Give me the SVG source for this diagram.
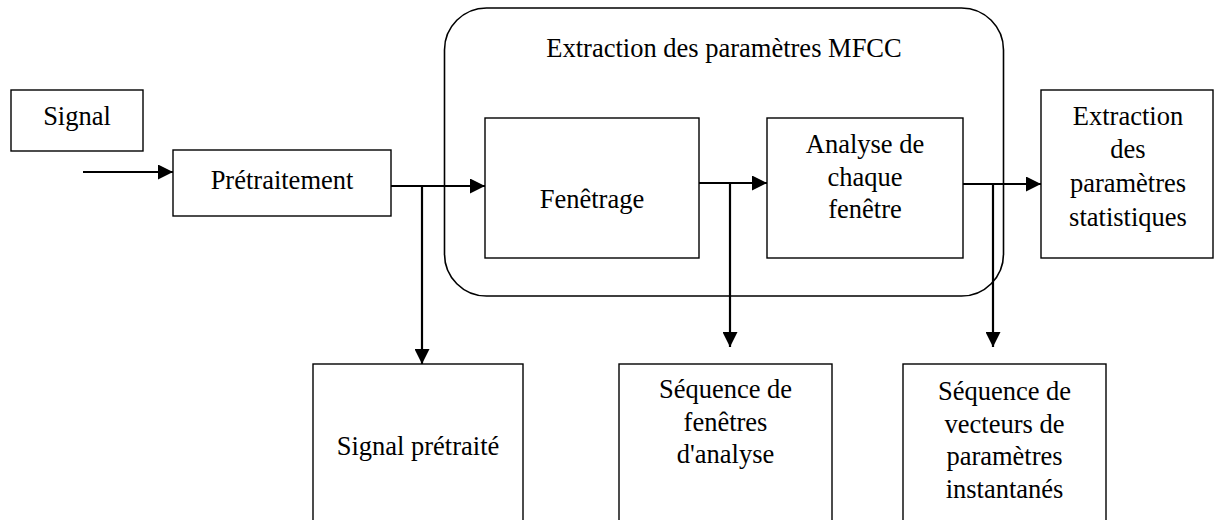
<svg xmlns="http://www.w3.org/2000/svg" width="1215" height="520" viewBox="0 0 1215 520">
  <style>
    .box { fill: #ffffff; stroke: #000000; stroke-width: 1.4; }
    .group { fill: none; stroke: #000000; stroke-width: 1.6; }
    .label { font-family: "Liberation Serif", "Times New Roman", serif; font-size: 26.5px; fill: #000000; text-anchor: middle; }
    .wire { fill: none; stroke: #000000; stroke-width: 2.2; }
  </style>
  <defs>
    <marker id="arrow" markerWidth="16" markerHeight="15" refX="15" refY="7.5" orient="auto" markerUnits="userSpaceOnUse">
      <path d="M0,0 L15,7.5 L0,15 Z" fill="#000000"/>
    </marker>
  </defs>

  <rect width="1215" height="520" fill="#ffffff"/>

  <!-- MFCC extraction block (container) -->
  <g id="mfcc">
    <rect class="group" x="444.5" y="8" width="559" height="288" rx="42" ry="42"/>
    <text class="label" x="724" y="57">Extraction des paramètres MFCC</text>
  </g>

  <g id="signal">
    <rect class="box" x="11" y="90" width="132" height="61"/>
    <text class="label" x="77" y="125">Signal</text>
  </g>

  <g id="pretraitement">
    <rect class="box" x="173" y="150" width="218" height="66"/>
    <text class="label" x="282" y="189">Prétraitement</text>
  </g>

  <g id="fenetrage">
    <rect class="box" x="485" y="118" width="214" height="140"/>
    <text class="label" x="592" y="208">Fenêtrage</text>
  </g>

  <g id="analyse">
    <rect class="box" x="767" y="118" width="196" height="140"/>
    <text class="label" x="865" y="153">Analyse de</text>
    <text class="label" x="865" y="185.5">chaque</text>
    <text class="label" x="865" y="218">fenêtre</text>
  </g>

  <g id="statistiques">
    <rect class="box" x="1041" y="90" width="172" height="168"/>
    <text class="label" x="1128" y="125">Extraction</text>
    <text class="label" x="1128" y="158">des</text>
    <text class="label" x="1128" y="192">paramètres</text>
    <text class="label" x="1128" y="226">statistiques</text>
  </g>

  <g id="signal-pretraite">
    <rect class="box" x="313" y="364" width="210" height="170"/>
    <text class="label" x="418" y="455">Signal prétraité</text>
  </g>

  <g id="sequence-fenetres">
    <rect class="box" x="619" y="364" width="213" height="170"/>
    <text class="label" x="725.5" y="398">Séquence de</text>
    <text class="label" x="725.5" y="430.5">fenêtres</text>
    <text class="label" x="725.5" y="463">d'analyse</text>
  </g>

  <g id="sequence-vecteurs">
    <rect class="box" x="903" y="364" width="203" height="170"/>
    <text class="label" x="1004.5" y="400">Séquence de</text>
    <text class="label" x="1004.5" y="432.5">vecteurs de</text>
    <text class="label" x="1004.5" y="465">paramètres</text>
    <text class="label" x="1004.5" y="497.5">instantanés</text>
  </g>

  <!-- connectors -->
  <g id="connectors">
    <line class="wire" x1="83" y1="172" x2="173" y2="172" marker-end="url(#arrow)"/>
    <line class="wire" x1="391" y1="186" x2="485" y2="186" marker-end="url(#arrow)"/>
    <line class="wire" x1="422" y1="186" x2="422" y2="364" marker-end="url(#arrow)"/>
    <line class="wire" x1="699" y1="183" x2="767" y2="183" marker-end="url(#arrow)"/>
    <line class="wire" x1="730" y1="183" x2="730" y2="347" marker-end="url(#arrow)"/>
    <line class="wire" x1="963" y1="184" x2="1041" y2="184" marker-end="url(#arrow)"/>
    <line class="wire" x1="993" y1="184" x2="993" y2="347" marker-end="url(#arrow)"/>
  </g>
</svg>
